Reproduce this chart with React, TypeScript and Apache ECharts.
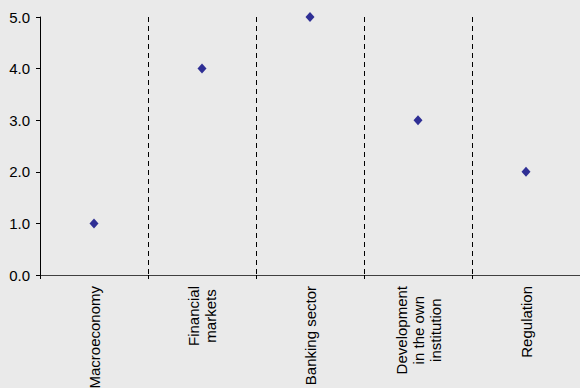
import React, { useEffect, useRef } from "react";
import * as echarts from "echarts";

const categories = [
  "Macroeconomy",
  "Financial\nmarkets",
  "Banking sector",
  "Development\nin the own\ninstitution",
  "Regulation",
];
const values = [1, 4, 5, 3, 2];
const yMin = 0;
const yMax = 5;
const yStep = 1;

const FONT = "'Liberation Sans', Arial, sans-serif";

export default function App() {
  const ref = useRef<HTMLDivElement>(null);
  useEffect(() => {
    if (!ref.current) return;
    const chart = echarts.init(ref.current, undefined, { renderer: "svg" });
    chart.setOption({
      animation: false,
      backgroundColor: "#eaeaea",
      textStyle: { fontFamily: FONT },
      grid: {
        left: 40,
        right: 0,
        top: 17,
        bottom: 113,
        containLabel: false,
        outerBoundsMode: "none",
      },
      xAxis: {
        type: "category",
        data: categories,
        boundaryGap: true,
        axisLine: { show: true, lineStyle: { color: "#404040", width: 1 } },
        axisTick: {
          show: true,
          length: 4,
          inside: false,
          lineStyle: { color: "#000" },
        },
        splitLine: {
          show: true,
          lineStyle: { color: "#000", type: [5, 4], width: 1 },
        },
        axisLabel: {
          rotate: 90,
          margin: 11,
          interval: 0,
          fontSize: 15,
          fontFamily: FONT,
          color: "#000",
          lineHeight: 17,
          formatter: (v: string) =>
            v
              .split("\n")
              .map((l) => `{c|${l}}`)
              .join("\n"),
          rich: {
            c: {
              align: "center",
              fontSize: 15,
              fontFamily: FONT,
              color: "#000",
              lineHeight: 17,
            },
          },
        },
      },
      yAxis: {
        type: "value",
        min: yMin,
        max: yMax,
        interval: yStep,
        axisLine: { show: true, lineStyle: { color: "#000", width: 1 } },
        axisTick: { show: true, length: 4, lineStyle: { color: "#000" } },
        splitLine: { show: false },
        axisLabel: {
          margin: 10,
          fontSize: 15,
          fontFamily: FONT,
          color: "#000",
          formatter: (v: number) => v.toFixed(1),
        },
      },
      series: [
        {
          type: "scatter",
          data: values,
          symbol: "diamond",
          symbolSize: [9, 10],
          itemStyle: { color: "#000080" },
        },
      ],
    });
    return () => chart.dispose();
  }, []);
  return (
    <div
      ref={ref}
      style={{ position: "fixed", left: 0, top: 0, width: 580, height: 388 }}
    />
  );
}
